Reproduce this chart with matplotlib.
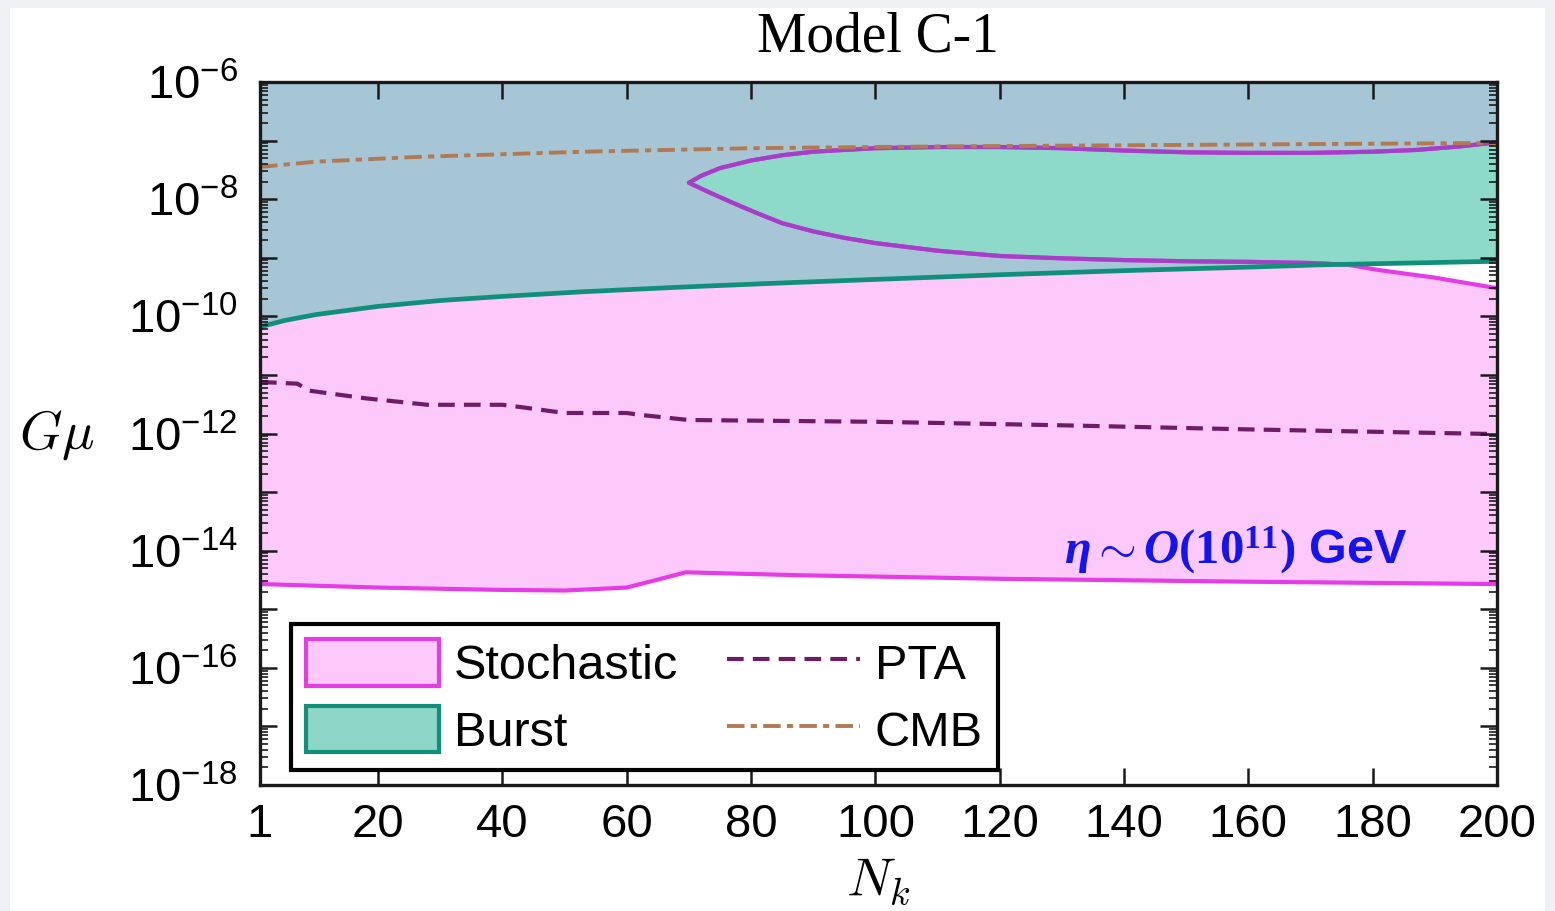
import numpy as np
import matplotlib.pyplot as plt
from matplotlib.patches import Rectangle, Patch
from matplotlib.lines import Line2D
from matplotlib.ticker import LogLocator, NullFormatter

plt.rcParams['font.family'] = ['Liberation Sans', 'DejaVu Sans']
plt.rcParams['mathtext.fontset'] = 'custom'
plt.rcParams['mathtext.rm'] = 'Liberation Sans'
plt.rcParams['mathtext.it'] = 'Liberation Serif:italic:bold'
plt.rcParams['mathtext.bf'] = 'Liberation Serif:bold'

# values, y given as log10(G mu)
burst_N = [1, 5, 10, 20, 30, 40, 53, 69, 85, 100, 120, 140, 160, 172, 200]
burst_log = [-10.18, -10.07, -9.97, -9.83, -9.73, -9.66, -9.58, -9.50, -9.43,
             -9.37, -9.29, -9.22, -9.16, -9.12, -9.06]

stoch_low_N = [1, 20, 40, 50, 60, 69.5, 88, 120, 160, 200]
stoch_low_log = [-14.57, -14.63, -14.67, -14.68, -14.63, -14.37, -14.42,
                 -14.48, -14.53, -14.57]

# contour of the hole in the stochastic region (nose opening to the right)
hole_up_N = [70, 72, 75, 80, 85, 90, 100, 110, 120, 130, 140, 150, 160, 170,
             180, 187, 194, 200]
hole_up_log = [-7.72, -7.60, -7.47, -7.34, -7.25, -7.19, -7.13, -7.11, -7.11,
               -7.13, -7.17, -7.20, -7.21, -7.21, -7.19, -7.16, -7.10, -7.03]
hole_lo_N = [70, 73, 77, 81, 85, 90, 95, 100, 110, 120, 130, 140, 150, 160,
             170, 176, 181, 190, 200]
hole_lo_log = [-7.72, -7.87, -8.06, -8.24, -8.41, -8.55, -8.66, -8.75, -8.88,
               -8.97, -9.01, -9.04, -9.06, -9.07, -9.09, -9.12, -9.21, -9.34,
               -9.52]

pta_N = [1, 7, 9, 18, 28, 40, 43, 50, 60, 62, 70, 100, 130, 160, 200]
pta_log = [-11.12, -11.15, -11.27, -11.40, -11.51, -11.51, -11.55, -11.65,
           -11.65, -11.68, -11.77, -11.80, -11.86, -11.93, -12.01]

cmb_N = [1, 10, 26, 53, 80, 110, 140, 170, 200]
cmb_log = [-7.45, -7.36, -7.28, -7.19, -7.13, -7.10, -7.08, -7.06, -7.04]

x_ticks = [1, 20, 40, 60, 80, 100, 120, 140, 160, 180, 200]
y_decades = list(range(-18, -5))

pink = '#fdc8fa'
magenta = '#e63ce6'
purple = '#a63fc8'
bluegray = '#a6c5d5'
teal_fill = '#8edac8'
teal_line = '#10907a'
pta_col = '#6e1c66'
cmb_col = '#b37a52'

fig = plt.figure(figsize=(15.55, 9.11), dpi=100, facecolor='#eef0f4')
fig.patches.append(Rectangle((10 / 1555, 0), 1535 / 1555, 1 - 8 / 911,
                             transform=fig.transFigure, facecolor='white',
                             edgecolor='none', zorder=-10))
ax = fig.add_axes([260 / 1555, 1 - 785 / 911, 1237 / 1555, 703 / 911])
ax.set_yscale('log')
ax.set_facecolor('white')

top = 1e-6
stoch_low = 10.0 ** np.array(stoch_low_log)
burst = 10.0 ** np.array(burst_log)

ax.fill_between(stoch_low_N, stoch_low, top, color=pink, lw=0, zorder=0.1)
burst_fill = ax.fill_between(burst_N, burst, top, color=bluegray, lw=0, zorder=0.2)
burst_path = burst_fill.get_paths()[0]

hole_x = hole_up_N + hole_lo_N[::-1]
hole_y = list(10.0 ** np.array(hole_up_log)) + list(10.0 ** np.array(hole_lo_log)[::-1])
ax.fill(hole_x, hole_y, color='white', lw=0, zorder=0.3)
teal_hole = ax.fill(hole_x, hole_y, color=teal_fill, lw=0, zorder=0.4)[0]
teal_hole.set_clip_path(burst_path, ax.transData)

# contour line: magenta, purple where it runs inside the burst region
cont_x = hole_up_N[::-1] + hole_lo_N[1:]
cont_y = list(10.0 ** np.array(hole_up_log)[::-1]) + list(10.0 ** np.array(hole_lo_log)[1:])
ax.plot(cont_x, cont_y, color=magenta, lw=3, zorder=1)
inner, = ax.plot(cont_x, cont_y, color=purple, lw=3, zorder=1.1)
inner.set_clip_path(burst_path, ax.transData)

ax.plot(stoch_low_N, stoch_low, color=magenta, lw=3, zorder=1.1)
ax.plot(burst_N, burst, color=teal_line, lw=3.4, zorder=1.2)
ax.plot(pta_N, 10.0 ** np.array(pta_log), color=pta_col, lw=3,
        dashes=(4, 2.2), zorder=1.2)
ax.plot(cmb_N, 10.0 ** np.array(cmb_log), color=cmb_col, lw=2.8,
        dashes=(4.5, 1.6, 1.6, 1.6), zorder=1.2)

ax.set_xlim(1, 200)
ax.set_ylim(1e-18, 1e-6)
ax.set_xticks(x_ticks)
ax.set_xticklabels([str(v) for v in x_ticks])
ax.set_yticks([10.0 ** d for d in y_decades])
ax.set_yticklabels([r'$\mathrm{10^{%d}}$' % d if d % 2 == 0 else '' for d in y_decades])
ax.yaxis.set_minor_locator(LogLocator(base=10, subs=np.arange(2, 10), numticks=100))
ax.yaxis.set_minor_formatter(NullFormatter())
ax.tick_params(which='both', direction='in', top=True, right=True,
               labelsize=34, color='#1a1a1a')
ax.tick_params(axis='x', pad=13)
ax.tick_params(axis='y', pad=16)
ax.tick_params(which='major', length=12, width=1.8)
ax.tick_params(which='minor', length=6, width=1.2)
ax.xaxis.set_zorder(5)
ax.yaxis.set_zorder(5)
for s in ax.spines.values():
    s.set_linewidth(2.4)
    s.set_color('#1a1a1a')
    s.set_zorder(10)

ax.text(-0.164, 0.498, r'$G\mu$', transform=ax.transAxes, fontsize=39,
        ha='center', va='center', math_fontfamily='cm')
ax.text(0.5, -0.137, r'$N_k$', transform=ax.transAxes, fontsize=39,
        ha='center', va='center', math_fontfamily='cm')
fig.text(878 / 1555, 1 - 38 / 911, 'Model C-1', family='Liberation Serif',
         fontsize=40, ha='center', va='center')

ax.text(158, 10 ** -14.0, r'$\eta\sim O\mathbf{(10^{11})}$ GeV', color='#1414f0',
        fontsize=35, fontweight='bold', ha='center', va='center', zorder=3)

handles = [
    Patch(facecolor=pink, edgecolor=magenta, lw=3, label='Stochastic'),
    Patch(facecolor='#8ed6c6', edgecolor=teal_line, lw=3, label='Burst'),
    Line2D([], [], color=pta_col, lw=3, dashes=(4, 2.2), label='PTA'),
    Line2D([], [], color=cmb_col, lw=2.8, dashes=(4.5, 1.6, 1.6, 1.6), label='CMB'),
]
leg = ax.legend(handles=handles, ncol=2, loc='lower left',
                bbox_to_anchor=(0.025, 0.021), borderaxespad=0, fontsize=35,
                fancybox=False, framealpha=1, edgecolor='black',
                handlelength=2.75, handleheight=1.1, handletextpad=0.3,
                columnspacing=1.0, labelspacing=0.35, borderpad=0.3)
leg.get_frame().set_linewidth(3)
leg.set_zorder(11)

fig.savefig('out.png', dpi=100, facecolor=fig.get_facecolor())
